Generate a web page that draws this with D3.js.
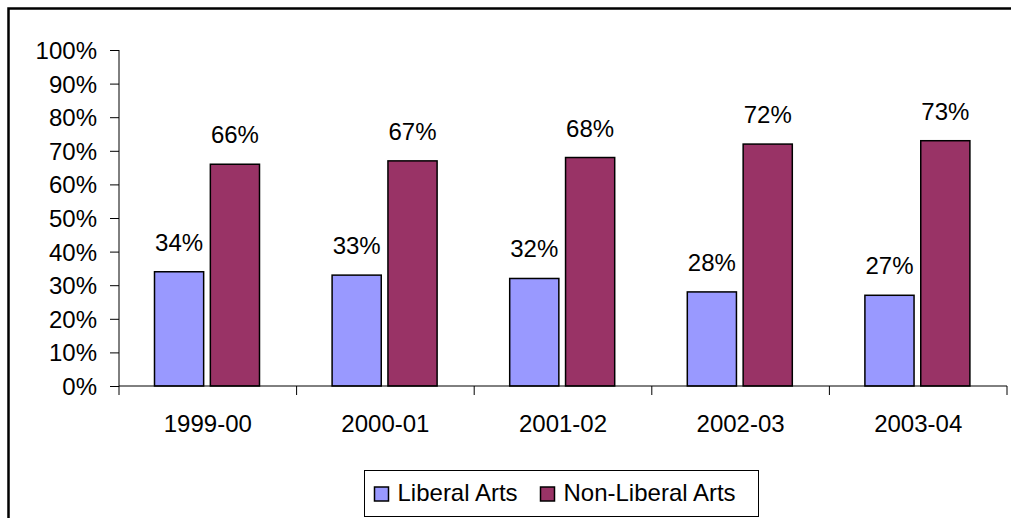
<!DOCTYPE html>
<html><head><meta charset="utf-8">
<script src="https://cdn.jsdelivr.net/npm/d3@7"></script>
<style>
body{margin:0;background:#fff;}
svg{display:block;font-family:"Liberation Sans",Arial,sans-serif;}
</style></head>
<body>
<svg id="c" width="1011" height="518"></svg>
<script>
const categories = ["1999-00","2000-01","2001-02","2002-03","2003-04"];
const seriesNames = ["Liberal Arts","Non-Liberal Arts"];
const liberalArts = [34, 33, 32, 28, 27];
const nonLiberalArts = [66, 67, 68, 72, 73];
const yTicks = [0,10,20,30,40,50,60,70,80,90,100];
const colors = ["#9999FF","#993366"];

(function(){
const svg = d3.select("#c");
// outer frame (cut off at right and bottom)
svg.append("path").attr("d","M8.5,530 L8.5,8.5 L1030,8.5")
  .attr("fill","none").attr("stroke","#000").attr("stroke-width",2.5);

const pL=119, pR=1007, pT=50, pB=386;
const x0 = d3.scaleBand().domain(categories).range([pL,pR]).padding(0);
const x1 = d3.scaleBand().domain(seriesNames).range([35.5,140.5]).paddingInner(0.12);
const y = d3.scaleLinear().domain([0,100]).range([pB,pT]);

const seriesData = [liberalArts, nonLiberalArts];

// bars
seriesNames.forEach((s,si)=>{
  const g = svg.append("g");
  g.selectAll("rect").data(categories).enter().append("rect")
    .attr("x",c=>x0(c)+x1(s))
    .attr("y",(c,i)=>y(seriesData[si][i]))
    .attr("width",x1.bandwidth())
    .attr("height",(c,i)=>pB-y(seriesData[si][i]))
    .attr("fill",colors[si]).attr("stroke","#000").attr("stroke-width",1.5);
  g.selectAll("text").data(categories).enter().append("text")
    .attr("x",c=>x0(c)+x1(s)+x1.bandwidth()/2)
    .attr("y",(c,i)=>y(seriesData[si][i])-21)
    .attr("text-anchor","middle").attr("font-size",24).attr("fill","#000")
    .text((c,i)=>seriesData[si][i]+"%");
});

// y axis
const yAxis = d3.axisLeft(y).tickValues(yTicks).tickSize(9).tickPadding(13)
  .tickFormat(d=>d+"%");
const ga = svg.append("g").attr("transform",`translate(${pL},0)`).call(yAxis);
ga.select(".domain").attr("stroke","#000").attr("d",`M-0,${pT}V${pB}`);
ga.selectAll("line").attr("stroke","#000");
ga.selectAll("text").attr("font-size",24).attr("fill","#000")
  .attr("font-family","Liberation Sans, Arial, sans-serif").attr("dy","0.35em");

// x axis
const xg = svg.append("g").attr("transform",`translate(0,${pB})`);
xg.append("line").attr("x1",pL).attr("x2",pR).attr("y1",0).attr("y2",0).attr("stroke","#000");
const bounds = categories.map(c=>x0(c)).concat([pR]);
xg.selectAll("line.t").data(bounds).enter().append("line").attr("class","t")
  .attr("x1",d=>d).attr("x2",d=>d).attr("y1",0).attr("y2",9).attr("stroke","#000");
xg.selectAll("text").data(categories).enter().append("text")
  .attr("x",c=>x0(c)+x0.bandwidth()/2).attr("y",46)
  .attr("text-anchor","middle").attr("font-size",24).attr("fill","#000").text(c=>c);

// legend
const lg = svg.append("g");
lg.append("rect").attr("x",364.5).attr("y",470.5).attr("width",394).attr("height",46)
  .attr("fill","#fff").attr("stroke","#000").attr("stroke-width",1);
const legX = [374.5, 540.5];
seriesNames.forEach((s,i)=>{
  lg.append("rect").attr("x",legX[i]).attr("y",487).attr("width",14).attr("height",14)
    .attr("fill",colors[i]).attr("stroke","#000").attr("stroke-width",1.5);
  lg.append("text").attr("x",legX[i]+23).attr("y",501).attr("font-size",24)
    .attr("fill","#000").text(s);
});
})();
</script>
</body></html>
